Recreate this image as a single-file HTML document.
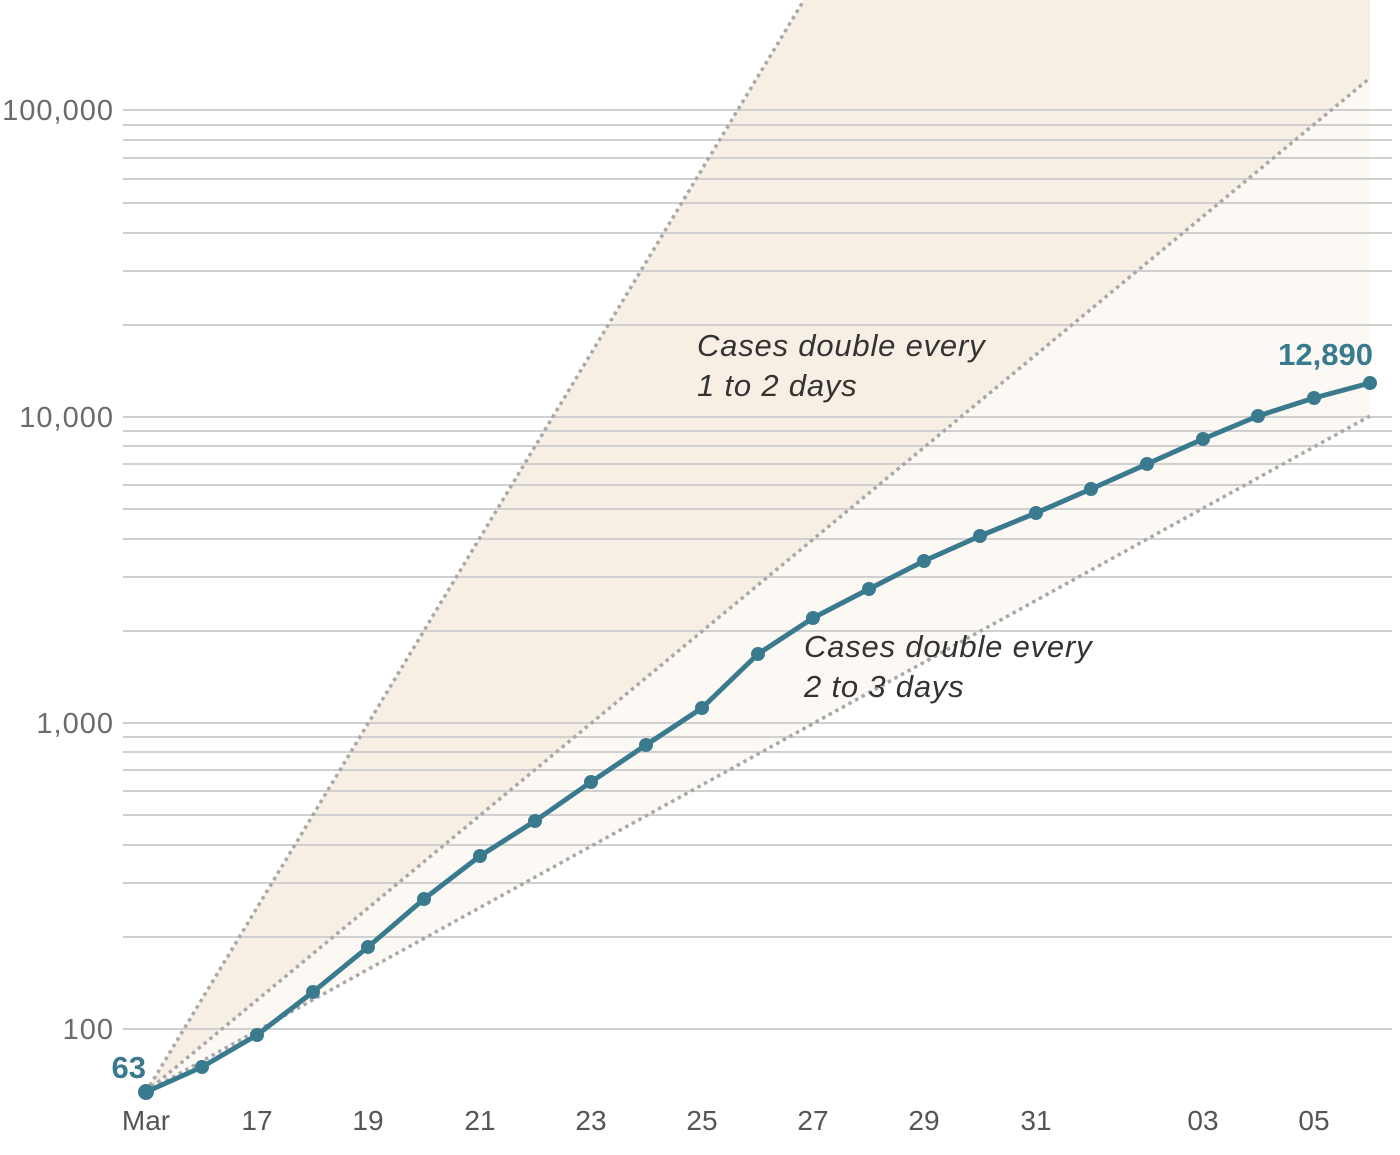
<!DOCTYPE html>
<html><head><style>
html,body{margin:0;padding:0;background:#fff;}
svg{display:block;}
text{font-family:"Liberation Sans",sans-serif;}
</style></head><body>
<svg width="1400" height="1155" viewBox="0 0 1400 1155" xmlns="http://www.w3.org/2000/svg">
<polygon points="146,1092 804,0 1370,0 1370,78" fill="#f7efe3"/>
<polygon points="146,1092 1370,78 1370,416" fill="#fcf9f4"/>
<g stroke="#d0d0d0" stroke-width="2">
<line x1="123" x2="1392" y1="1029" y2="1029"/>
<line x1="123" x2="1392" y1="937" y2="937"/><line x1="123" x2="1392" y1="883" y2="883"/><line x1="123" x2="1392" y1="845" y2="845"/><line x1="123" x2="1392" y1="815" y2="815"/><line x1="123" x2="1392" y1="791" y2="791"/><line x1="123" x2="1392" y1="770" y2="770"/><line x1="123" x2="1392" y1="752" y2="752"/><line x1="123" x2="1392" y1="737" y2="737"/><line x1="123" x2="1392" y1="723" y2="723"/>
<line x1="123" x2="1392" y1="631" y2="631"/><line x1="123" x2="1392" y1="577" y2="577"/><line x1="123" x2="1392" y1="539" y2="539"/><line x1="123" x2="1392" y1="509" y2="509"/><line x1="123" x2="1392" y1="485" y2="485"/><line x1="123" x2="1392" y1="464" y2="464"/><line x1="123" x2="1392" y1="446" y2="446"/><line x1="123" x2="1392" y1="431" y2="431"/><line x1="123" x2="1392" y1="417" y2="417"/>
<line x1="123" x2="1392" y1="325" y2="325"/><line x1="123" x2="1392" y1="271" y2="271"/><line x1="123" x2="1392" y1="233" y2="233"/><line x1="123" x2="1392" y1="203" y2="203"/><line x1="123" x2="1392" y1="179" y2="179"/><line x1="123" x2="1392" y1="158" y2="158"/><line x1="123" x2="1392" y1="140" y2="140"/><line x1="123" x2="1392" y1="125" y2="125"/><line x1="123" x2="1392" y1="110" y2="110"/>
</g>
<g stroke="#a8a8a8" stroke-width="3.5" stroke-dasharray="3.5 4" fill="none">
<line x1="146" y1="1092" x2="804" y2="0"/>
<line x1="146" y1="1092" x2="1370" y2="78"/>
<line x1="146" y1="1092" x2="1370" y2="416"/>
</g>
<g fill="#6b6b6b" font-size="29" text-anchor="end" letter-spacing="1">
<text x="114" y="120">100,000</text>
<text x="114" y="427">10,000</text>
<text x="114" y="733">1,000</text>
<text x="114" y="1039">100</text>
</g>
<g fill="#555" font-size="28" text-anchor="middle">
<text x="146" y="1130">Mar</text><text x="257" y="1130">17</text><text x="368" y="1130">19</text><text x="480" y="1130">21</text><text x="591" y="1130">23</text><text x="702" y="1130">25</text><text x="813" y="1130">27</text><text x="924" y="1130">29</text><text x="1036" y="1130">31</text><text x="1203" y="1130">03</text><text x="1314" y="1130">05</text>
</g>
<g fill="#333" font-size="31" font-style="italic" letter-spacing="0.8">
<text x="697" y="356">Cases double every</text><text x="697" y="396">1 to 2 days</text>
<text x="804" y="657">Cases double every</text><text x="804" y="697">2 to 3 days</text>
</g>
<polyline fill="none" stroke="#3a7a8f" stroke-width="5" stroke-linejoin="round" points="146,1092 202,1067 257,1035 313,992 368,947 424,899 480,856 535,821 591,782 646,745 702,708 758,654 813,618 869,589 924,561 980,536 1036,513 1091,489 1147,464 1203,439 1258,416 1314,398 1370,383"/>
<g fill="#3a7a8f">
<circle cx="146" cy="1092" r="8"/><circle cx="202" cy="1067" r="7"/><circle cx="257" cy="1035" r="7"/><circle cx="313" cy="992" r="7"/><circle cx="368" cy="947" r="7"/><circle cx="424" cy="899" r="7"/><circle cx="480" cy="856" r="7"/><circle cx="535" cy="821" r="7"/><circle cx="591" cy="782" r="7"/><circle cx="646" cy="745" r="7"/><circle cx="702" cy="708" r="7"/><circle cx="758" cy="654" r="7"/><circle cx="813" cy="618" r="7"/><circle cx="869" cy="589" r="7"/><circle cx="924" cy="561" r="7"/><circle cx="980" cy="536" r="7"/><circle cx="1036" cy="513" r="7"/><circle cx="1091" cy="489" r="7"/><circle cx="1147" cy="464" r="7"/><circle cx="1203" cy="439" r="7"/><circle cx="1258" cy="416" r="7"/><circle cx="1314" cy="398" r="7"/><circle cx="1370" cy="383" r="7"/>
<text x="146" y="1078" font-size="31" font-weight="bold" text-anchor="end">63</text>
<text x="1373" y="365" font-size="31" font-weight="bold" text-anchor="end">12,890</text>
</g>
</svg>
</body></html>
